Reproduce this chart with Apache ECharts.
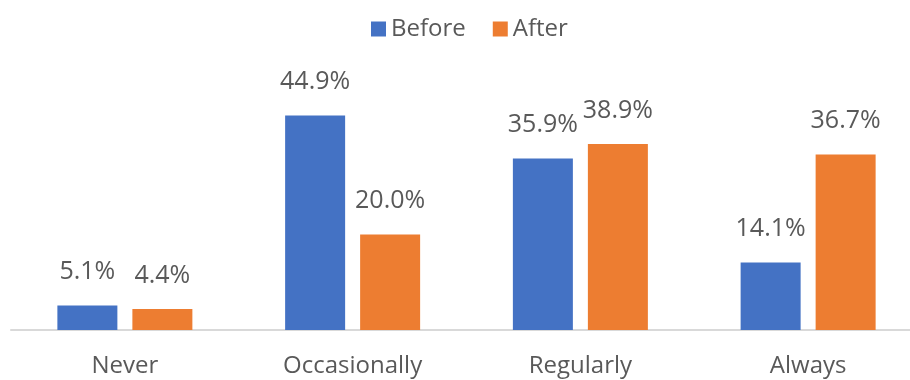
<!DOCTYPE html>
<html>
<head>
<meta charset="utf-8">
<script src="https://cdn.jsdelivr.net/npm/echarts@6/dist/echarts.min.js"></script>
<style>
  html, body { margin: 0; padding: 0; background: #ffffff; overflow: hidden; }
  /* plot runs slightly past the right edge of the window */
  #chart { width: 922px; height: 380px; }
</style>
</head>
<body>
<div id="chart"></div>
<script>
// Share of respondents per frequency, before and after
const categories = ['Never', 'Occasionally', 'Regularly', 'Always'];
const beforeValues = [5.1, 44.9, 35.9, 14.1];
const afterValues = [4.4, 20.0, 38.9, 36.7];
const seriesNames = ['Before', 'After'];

const FONT = '"Open Sans", "Noto Sans", sans-serif';
const TEXT_COLOR = '#595959';

const chart = echarts.init(document.getElementById('chart'), null, { renderer: 'canvas' });

const pctLabel = {
  show: true,
  position: 'top',
  distance: 21,
  fontFamily: FONT,
  fontSize: 25,
  color: TEXT_COLOR,
  formatter: p => p.value.toFixed(1) + '%'
};

chart.setOption({
  animation: false,
  backgroundColor: '#ffffff',
  legend: {
    data: seriesNames,
    left: 366,
    top: 12,
    itemWidth: 15,
    itemHeight: 15,
    itemGap: 27,
    icon: 'rect',
    textStyle: { fontFamily: FONT, fontSize: 24, color: TEXT_COLOR }
  },
  grid: { left: 11, top: 91, right: 0, bottom: 50, containLabel: false },
  xAxis: {
    type: 'category',
    data: categories,
    axisLine: { show: true, lineStyle: { color: '#d9d9d9', width: 2 } },
    axisTick: { show: false },
    axisLabel: { margin: 24, fontFamily: FONT, fontSize: 24, color: TEXT_COLOR }
  },
  yAxis: {
    type: 'value',
    min: 0,
    max: 50,
    show: false,
    splitLine: { show: false }
  },
  series: [
    {
      name: seriesNames[0],
      type: 'bar',
      data: beforeValues,
      barWidth: 60,
      barGap: '25%',
      itemStyle: { color: '#4472C4' },
      label: pctLabel
    },
    {
      name: seriesNames[1],
      type: 'bar',
      data: afterValues,
      barWidth: 60,
      barGap: '25%',
      itemStyle: { color: '#ED7D31' },
      label: pctLabel
    }
  ]
});
</script>
</body>
</html>
